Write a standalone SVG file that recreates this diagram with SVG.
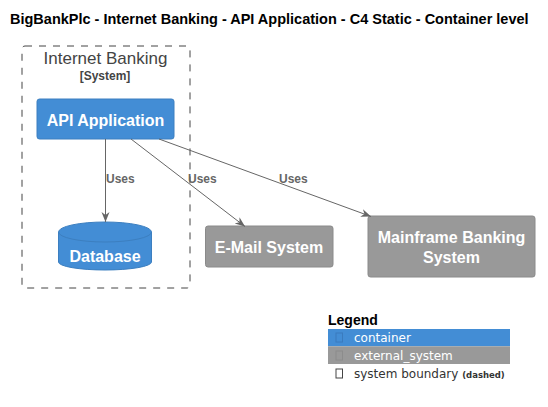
<svg xmlns="http://www.w3.org/2000/svg" width="548" height="407" viewBox="0 0 548 407">
<defs>
<style>
.t{font-family:"Liberation Sans",Arial,sans-serif}
.title{font-size:14.5px;font-weight:bold;fill:#000}
.cont{fill:#438DD5;stroke:#3C7FC0;stroke-width:1}
.ext{fill:#999999;stroke:#8A8A8A;stroke-width:1}
.lbl{font-size:16px;font-weight:bold;fill:#FFFFFF;text-anchor:middle}
.edge{stroke:#666666;stroke-width:1;fill:none}
.elbl{font-size:12px;font-weight:bold;fill:#666666}
.leg{font-family:"DejaVu Sans",Verdana,sans-serif;font-size:12px}
</style>
<marker id="ah" viewBox="0 0 10 10" refX="10" refY="5" markerWidth="10" markerHeight="10" markerUnits="userSpaceOnUse" orient="auto">
<path d="M0,1 L10,5 L0,9 L3,5 Z" fill="#666666"/>
</marker>
</defs>
<rect width="548" height="407" fill="#FFFFFF"/>
<text class="t title" x="10" y="24">BigBankPlc - Internet Banking - API Application - C4 Static - Container level</text>

<g id="boundary">
<rect x="22" y="46" width="168" height="242" rx="3" ry="3" fill="none" stroke="#444444" stroke-width="1" stroke-dasharray="7,7"/>
<text class="t" x="105.5" y="64" font-size="17" fill="#444444" text-anchor="middle">Internet Banking</text>
<text class="t" x="105" y="80" font-size="12" font-weight="bold" fill="#444444" text-anchor="middle">[System]</text>
</g>

<g id="api">
<rect class="cont" x="37" y="99" width="137" height="40" rx="2.5" ry="2.5"/>
<text class="t lbl" x="105.5" y="126">API Application</text>
</g>

<g id="database">
<path class="cont" d="M58.5,232 A46.5,10 0 0 1 151.5,232 L151.5,262 A46.5,8 0 0 1 58.5,262 Z"/>
<path d="M58.5,232 A46.5,10 0 0 0 151.5,232" fill="none" stroke="#3C7FC0" stroke-width="1"/>
<text class="t lbl" x="105" y="262">Database</text>
</g>

<g id="email">
<rect class="ext" x="205.5" y="226" width="127.5" height="41" rx="2.5" ry="2.5"/>
<text class="t lbl" x="269" y="253">E-Mail System</text>
</g>

<g id="mainframe">
<rect class="ext" x="368" y="216" width="167" height="61" rx="2.5" ry="2.5"/>
<text class="t lbl" x="451.5" y="243">Mainframe Banking</text>
<text class="t lbl" x="451.5" y="263">System</text>
</g>

<g id="connectors">
<line class="edge" x1="105.5" y1="139" x2="105.5" y2="222" marker-end="url(#ah)"/>
<line class="edge" x1="131" y1="139" x2="245" y2="226.5" marker-end="url(#ah)"/>
<line class="edge" x1="159" y1="139" x2="371" y2="216.5" marker-end="url(#ah)"/>
<text class="t elbl" x="106" y="183">Uses</text>
<text class="t elbl" x="188" y="183">Uses</text>
<text class="t elbl" x="279" y="183">Uses</text>
</g>

<g id="legend">
<text class="t" x="328" y="325" font-size="14" font-weight="bold" fill="#000">Legend</text>
<rect x="328" y="329" width="182" height="17.3" fill="#438DD5"/>
<rect x="328" y="346.3" width="182" height="17.7" fill="#999999"/>
<rect x="336" y="333" width="6.5" height="9" fill="none" stroke="#3A7BBE" stroke-width="1"/>
<rect x="336" y="351" width="6.5" height="9" fill="none" stroke="#8C8C8C" stroke-width="1"/>
<rect x="336" y="369" width="6.5" height="9" fill="none" stroke="#444444" stroke-width="1"/>
<text class="leg" x="354" y="342" fill="#FFFFFF">container</text>
<text class="leg" x="354" y="360" fill="#FFFFFF">external_system</text>
<text class="leg" x="354" y="378" fill="#333333">system boundary <tspan font-size="8.5" font-weight="bold">(dashed)</tspan></text>
</g>
</svg>
